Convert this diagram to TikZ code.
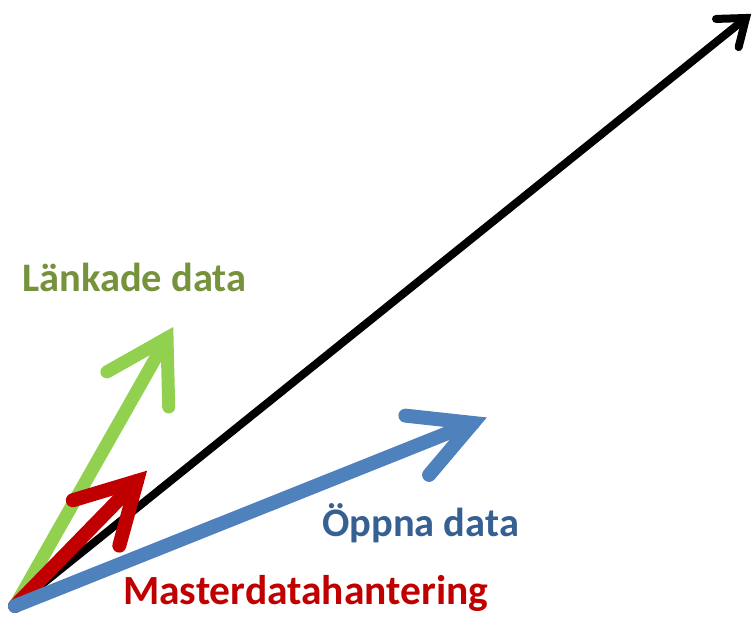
\documentclass[tikz,border=0pt]{standalone}
\usepackage{fontspec}
\setmainfont{Carlito}
\usetikzlibrary{calc}
\definecolor{blk}{RGB}{0,0,0}
\definecolor{grn}{RGB}{146,208,80}
\definecolor{red}{RGB}{192,0,0}
\definecolor{blu}{RGB}{79,129,189}
\definecolor{olive}{RGB}{118,146,60}
\definecolor{dblue}{RGB}{54,96,146}
\tikzset{
  shaft/.style={line cap=round},
  head/.style={line cap=round, line join=miter, miter limit=10},
  lbl/.style={anchor=base west, inner sep=0pt, font=\bfseries},
}
% draw a vector from #1 to #2 with an open barbed head
% #3 = colour, #4 = width, #5 = barb length, #6 = barb angle
\newcommand{\vecarrow}[6]{%
  \draw[shaft, draw=#3, line width=#4] (#1) -- (#2);
  \draw[head, draw=#3, line width=#4]
    ($(#2)!#5!#6:(#1)$) -- (#2) -- ($(#2)!#5!-#6:(#1)$);
}
\begin{document}
\begin{tikzpicture}[x=1pt, y=-1pt]
  \useasboundingbox (0,0) rectangle (753,617);
  \coordinate (o) at (15,606);
  \coordinate (tk) at (746,18);
  \coordinate (tg) at (167,338);
  \coordinate (tr) at (137,481);
  \coordinate (tb) at (473,423);

  \vecarrow{o}{tg}{grn}{13pt}{69pt}{31}
  \vecarrow{o}{tk}{blk}{8pt}{30pt}{37}
  \vecarrow{o}{tr}{red}{14pt}{67pt}{29}
  \vecarrow{o}{tb}{blu}{14pt}{68pt}{28}

  \node[lbl, text=olive, font=\bfseries\fontsize{40.5}{44}\selectfont] (lk) at (22,292) {Länkade data};
  \node[lbl, text=dblue, font=\bfseries\fontsize{40.5}{44}\selectfont] (op) at (322,537) {Öppna data};
  \node[lbl, text=red, font=\bfseries\fontsize{41.5}{45}\selectfont] (md) at (123,605) {Masterdatahantering};
\end{tikzpicture}
\end{document}
